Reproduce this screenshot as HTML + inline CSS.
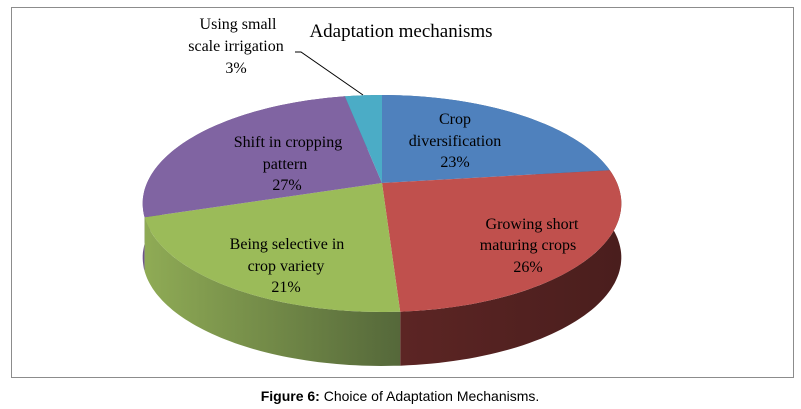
<!DOCTYPE html>
<html><head><meta charset="utf-8"><style>
html,body{margin:0;padding:0;background:#fff;}
svg{display:block;}
</style></head><body>
<svg id="chart" width="801" height="409" viewBox="0 0 801 409" xmlns="http://www.w3.org/2000/svg">
<defs>
<linearGradient id="gGreen" x1="0" x2="1" y1="0" y2="0"><stop offset="0" stop-color="#8fab55"/><stop offset="1" stop-color="#55683a"/></linearGradient>
<linearGradient id="gRed" x1="0" x2="1" y1="0" y2="0"><stop offset="0" stop-color="#5c2524"/><stop offset="1" stop-color="#4a1e1d"/></linearGradient>
<linearGradient id="gPurple" x1="0" x2="1" y1="0" y2="0"><stop offset="0" stop-color="#6d548a"/><stop offset="1" stop-color="#5d4878"/></linearGradient>
<linearGradient id="gBlue" x1="0" x2="1"><stop offset="0" stop-color="#3d6593"/><stop offset="1" stop-color="#30527a"/></linearGradient>
<linearGradient id="gCyan" x1="0" x2="1"><stop offset="0" stop-color="#3a8aa0"/><stop offset="1" stop-color="#2f7285"/></linearGradient>
</defs>
<rect x="11.5" y="7.5" width="782" height="370" fill="#fff" stroke="#8c8c8c" stroke-width="1"/>
<g id="sides"></g>
<g id="tops"></g>
<text x="401" y="37" font-family="'Liberation Serif',serif" font-size="19" text-anchor="middle" fill="#000">Adaptation mechanisms</text>
<polyline points="295,52 301,52 363,95" fill="none" stroke="#000" stroke-width="1"/>
<g font-family="'Liberation Serif',serif" font-size="16" fill="#000" text-anchor="middle">
<text><tspan x="238" y="29">Using small</tspan><tspan x="236" y="51">scale irrigation</tspan><tspan x="236" y="73">3%</tspan></text>
<text><tspan x="455" y="124">Crop</tspan><tspan x="455" y="146">diversification</tspan><tspan x="455" y="167">23%</tspan></text>
<text><tspan x="532" y="229">Growing short</tspan><tspan x="528" y="250">maturing crops</tspan><tspan x="528" y="272">26%</tspan></text>
<text><tspan x="287" y="249">Being selective in</tspan><tspan x="286" y="271">crop variety</tspan><tspan x="286" y="292">21%</tspan></text>
<text><tspan x="288" y="147">Shift in cropping</tspan><tspan x="285" y="169">pattern</tspan><tspan x="287" y="190">27%</tspan></text>
</g>
<text x="400" y="401" font-family="'Liberation Sans',sans-serif" font-size="14" text-anchor="middle" fill="#000"><tspan font-weight="bold">Figure 6:</tspan> Choice of Adaptation Mechanisms.</text>
</svg>
<script>
const categories = ["Crop diversification","Growing short maturing crops","Being selective in crop variety","Shift in cropping pattern","Using small scale irrigation"];
const values = [23, 26, 21, 27, 3];
const topColors = ["#4f81bd","#c0504d","#9bbb59","#8064a2","#4bacc6"];
const sideFills = ["url(#gBlue)","url(#gRed)","url(#gGreen)","url(#gPurple)","url(#gCyan)"];

const CX = 382, CY = 183, A = 104.6, B = 235, K = 0.189, DEPTH = 54;
const NS = "http://www.w3.org/2000/svg";
function proj(theta){
  const u = Math.sin(theta), v = -Math.cos(theta);
  const d = 1 - K*v;
  return [CX + B*u/d, CY + A*v/d];
}
const total = values.reduce((a,b)=>a+b,0);
const sidesG = document.getElementById('sides');
const topsG = document.getElementById('tops');
let acc = 0;
const slices = values.map((v,i)=>{
  const a0 = acc/total*2*Math.PI; acc += v;
  const a1 = acc/total*2*Math.PI;
  return {i,a0,a1};
});
// sides: back to front (draw those nearest bottom last)
const order = slices.slice().sort((p,q)=>{
  const mp = Math.cos((p.a0+p.a1)/2), mq = Math.cos((q.a0+q.a1)/2);
  return mq - mp;
});
order.forEach(s=>{
  const n = 60, top=[], bot=[];
  for(let k=0;k<=n;k++){
    const t = s.a0 + (s.a1-s.a0)*k/n;
    const p = proj(t);
    top.push(p); bot.push([p[0],p[1]+DEPTH]);
  }
  const pts = top.concat(bot.reverse()).map(p=>p[0].toFixed(1)+','+p[1].toFixed(1)).join(' ');
  const poly = document.createElementNS(NS,'polygon');
  poly.setAttribute('points', pts);
  poly.setAttribute('fill', sideFills[s.i]);
  
  
  sidesG.appendChild(poly);
});
slices.forEach(s=>{
  const n = 80; let d = 'M'+CX+','+CY;
  for(let k=0;k<=n;k++){
    const t = s.a0 + (s.a1-s.a0)*k/n;
    const p = proj(t);
    d += ' L'+p[0].toFixed(1)+','+p[1].toFixed(1);
  }
  d += ' Z';
  const path = document.createElementNS(NS,'path');
  path.setAttribute('d', d);
  path.setAttribute('fill', topColors[s.i]);
  
  
  topsG.appendChild(path);
});
</script>
</body></html>
